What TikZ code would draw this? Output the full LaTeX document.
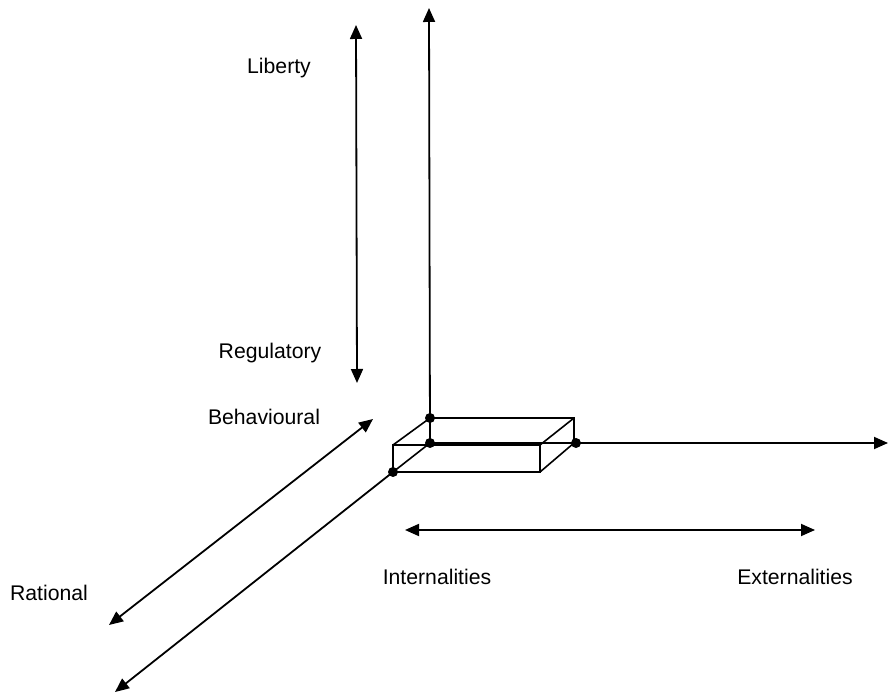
\documentclass[tikz,border=0pt]{standalone}
\usepackage{fontspec}
\setmainfont{Liberation Sans}
\usetikzlibrary{arrows.meta}

\begin{document}
\begin{tikzpicture}[x=0.5pt,y=-0.5pt,
    axis/.style={line width=0.9pt,{Triangle[length=7pt,width=6pt]}-{Triangle[length=7pt,width=6pt]}},
    oneway/.style={line width=0.9pt,-{Triangle[length=7pt,width=6pt]}},
    edge/.style={line width=0.8pt},
    lbl/.style={font=\fontsize{10.6}{12}\selectfont},
    dot/.style={circle,fill=black,inner sep=0pt,minimum size=5pt}]
                \useasboundingbox (0,0) rectangle (888,694);
                % box corners
                \coordinate (fbl) at (393,472);
                \coordinate (ftl) at (393,445);
                \coordinate (fbr) at (540,472);
                \coordinate (ftr) at (540,445);
                \coordinate (btl) at (430,418);
                \coordinate (btr) at (574,418);
                \coordinate (bbr) at (574,443);
                \coordinate (bmid) at (430,443);
                % axis ends
                \coordinate (ytop) at (429,8);
                \coordinate (xend) at (888,443);
                \coordinate (zend) at (115,692);
                \draw[edge] (ftl) rectangle (fbr);
                \draw[edge] (ftl) -- (btl) -- (btr) -- (bbr) -- (fbr);
                \draw[edge] (ftr) -- (btr);
                \draw[edge] (bmid) -- (fbl);
                \draw[oneway] (bmid) -- (ytop);
                \draw[oneway] (bmid) -- (xend);
                \draw[oneway] (fbl) -- (zend);
                \node[dot] (d1) at (btl) {};
                \node[dot] (d2) at (bmid) {};
                \node[dot] (d3) at (fbl) {};
                \node[dot] (d4) at (576,443) {};
                % double arrows
                \coordinate (libtop) at (356,25);
                \coordinate (regbot) at (357,383);
                \draw[axis] (libtop) -- (regbot);
                \coordinate (behtop) at (373,419);
                \coordinate (ratbot) at (109,625);
                \draw[axis] (behtop) -- (ratbot);
                \coordinate (intl) at (405,530);
                \coordinate (extr) at (815,530);
                \draw[axis] (intl) -- (extr);
                % labels
                \node[lbl] (liberty) at (279,68) {Liberty};
                \node[lbl] (regulatory) at (270,353) {Regulatory};
                \node[lbl] (behavioural) at (264,417) {Behavioural};
                \node[lbl] (rational) at (49,593) {Rational};
                \node[lbl] (internalities) at (437,577) {Internalities};
                \node[lbl] (externalities) at (795,577) {Externalities};
            \end{tikzpicture}
\end{document}
